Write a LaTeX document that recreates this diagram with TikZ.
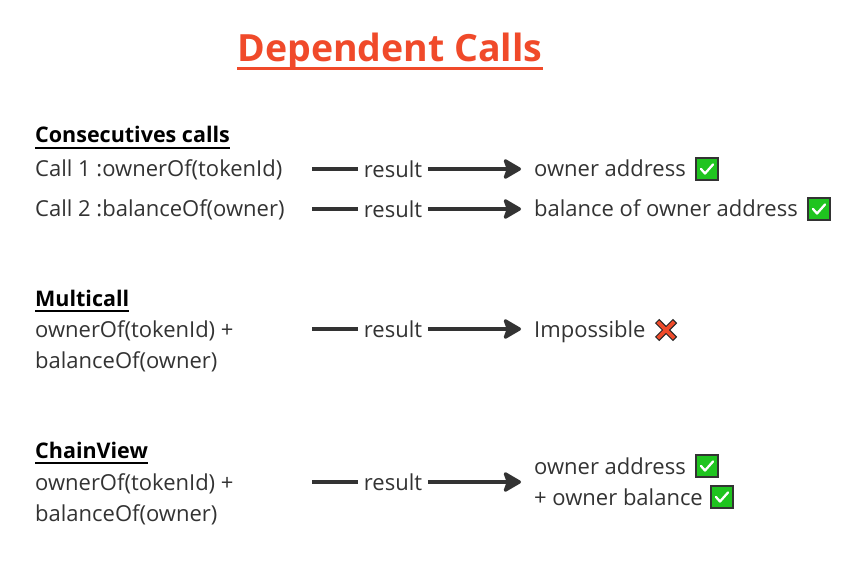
\documentclass[tikz,border=0pt]{standalone}
\usepackage{fontspec}
\setmainfont{Open Sans}
\usetikzlibrary{arrows.meta,calc}
\definecolor{txt}{HTML}{333333}
\definecolor{ttl}{HTML}{F04A2A}
\definecolor{okgreen}{HTML}{1FC41F}
\definecolor{nored}{HTML}{EE4B2B}
\tikzset{
  tx/.style={anchor=base west,inner sep=0pt,text=txt,font=\fontsize{22}{26}\selectfont},
  hd/.style={anchor=base west,inner sep=0pt,text=black,font=\bfseries\fontsize{21.5}{26}\selectfont},
  res/.style={inner xsep=5.5pt,inner ysep=2pt,text=txt,font=\fontsize{22}{26}\selectfont},
  conn/.style={draw=txt,line width=3.2pt},
  arr/.style={conn,-{Stealth[length=20pt,width=23pt,inset=4pt,round]}},
  check/.pic={
    \draw[fill=okgreen,draw=black!80,line width=1.2pt] (-11,-11) rectangle (11,11);
    \draw[white,line width=2.3pt,line cap=round,line join=round] (-6,0) -- (-2,4.5) -- (6,-4.5);
  },
  cross/.pic={
    \draw[black!85,line width=6pt] (-9,-9) -- (9,9) (-9,9) -- (9,-9);
    \draw[nored,line width=3.8pt] (-8.2,-8.2) -- (8.2,8.2) (-8.2,8.2) -- (8.2,-8.2);
  }
}
\begin{document}
\begin{tikzpicture}[x=1pt,y=-1pt]
\useasboundingbox[fill=white] (0,0) rectangle (861,572);
% title
\node[anchor=base,inner sep=0pt,text=ttl,font=\bfseries\fontsize{37.5}{44}\selectfont] (title) at (390,62) {Dependent Calls};
\draw[ttl,line width=3pt] ([yshift=-6.5pt]title.base west) -- ([yshift=-6.5pt]title.base east);

% section 1
\node[hd] (h1) at (35,143) {Consecutives calls};
\draw[black,line width=2pt] ([yshift=-5pt]h1.base west) -- ([yshift=-5pt]h1.base east);
\node[tx] (c1) at (35,176) {Call 1 :ownerOf(tokenId)};
\node[tx] (c2) at (35,216) {Call 2 :balanceOf(owner)};
\coordinate (s1) at (312,169);
\coordinate (s2) at (312,209);
\node[res] (r1) at (393,169) {result};
\node[res] (r2) at (393,209) {result};
\coordinate (e1) at (521,169);
\coordinate (e2) at (521,209);
\draw[conn] (s1) -- (r1);
\draw[arr] (r1) -- (e1);
\draw[conn] (s2) -- (r2);
\draw[arr] (r2) -- (e2);
\node[tx] (o1) at (534,176) {owner address};
\node[tx] (o2) at (534,216) {balance of owner address};
\pic at (707,169) {check};
\pic at (819,209) {check};

% section 2
\node[hd] (h2) at (35,306) {Multicall};
\draw[black,line width=2pt] ([yshift=-5pt]h2.base west) -- ([yshift=-5pt]h2.base east);
\node[tx] (m1) at (35,337) {ownerOf(tokenId) +};
\node[tx] (m2) at (35,368) {balanceOf(owner)};
\coordinate (s3) at (312,329);
\node[res] (r3) at (393,329) {result};
\coordinate (e3) at (521,329);
\draw[conn] (s3) -- (r3);
\draw[arr] (r3) -- (e3);
\node[tx] (o3) at (534,337) {Impossible};
\pic at (666,330) {cross};

% section 3
\node[hd] (h3) at (35,458) {ChainView};
\draw[black,line width=2pt] ([yshift=-5pt]h3.base west) -- ([yshift=-5pt]h3.base east);
\node[tx] (v1) at (35,490) {ownerOf(tokenId) +};
\node[tx] (v2) at (35,521) {balanceOf(owner)};
\coordinate (s4) at (312,482);
\node[res] (r4) at (393,482) {result};
\coordinate (e4) at (521,482);
\draw[conn] (s4) -- (r4);
\draw[arr] (r4) -- (e4);
\node[tx] (o4) at (534,474) {owner address};
\node[tx] (o5) at (534,505) {+ owner balance};
\pic at (707,466) {check};
\pic at (722,497) {check};
\end{tikzpicture}
\end{document}
